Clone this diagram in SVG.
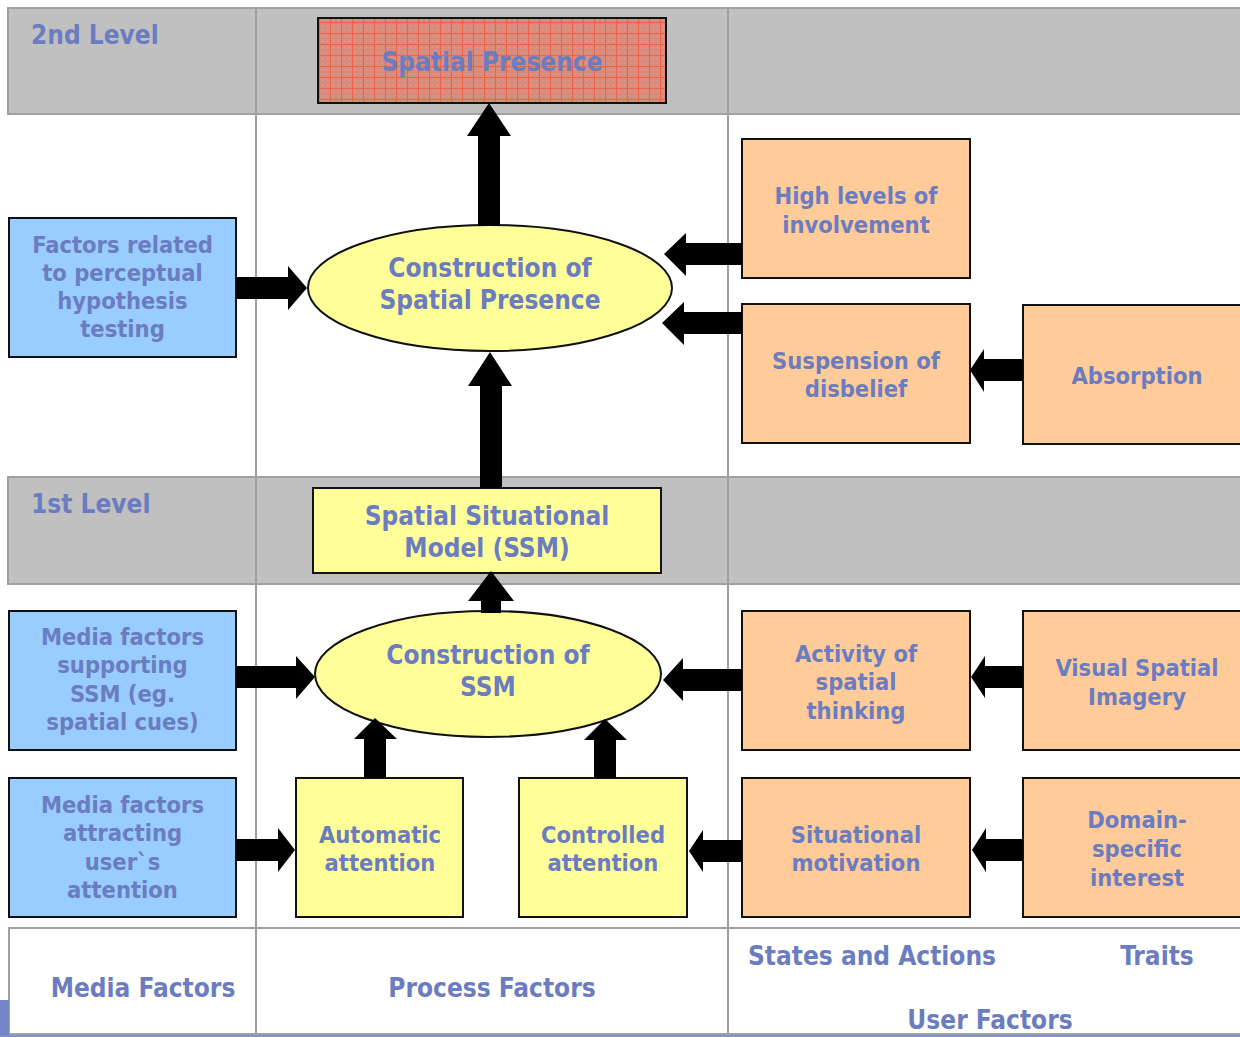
<svg xmlns="http://www.w3.org/2000/svg" width="1240" height="1037" viewBox="0 0 1240 1037">
<defs>
<pattern id="grid" width="11" height="11" patternUnits="userSpaceOnUse">
<rect width="11" height="11" fill="#d98c7e"/>
<path d="M0 0.5H11M0.5 0V11" stroke="#ec6448" stroke-width="1"/>
<path d="M3 3h1v1h-1zM8 8h1v1h-1zM8 3h1v1h-1zM3 8h1v1h-1z" fill="#e0a092"/>
</pattern>
<style>
.band{fill:#c0c0c0;stroke:#a0a0a0;stroke-width:2}
.grid{stroke:#a0a0a0;stroke-width:2;fill:none}
.blue{fill:#99ccff;stroke:#111;stroke-width:2}
.orange{fill:#ffcc99;stroke:#111;stroke-width:2}
.yellow{fill:#ffff99;stroke:#111;stroke-width:2}
.t{font-family:"DejaVu Sans Condensed","DejaVu Sans",Tahoma,sans-serif;font-weight:bold;fill:#6b7cc0;text-anchor:middle}
.s{font-size:23.5px}
.b{font-size:26px}
.l{text-anchor:start}
.arrow{fill:#000}
</style>
</defs>
<rect width="1240" height="1037" fill="#ffffff"/>
<g id="table">
<rect class="band" x="8" y="8" width="1240" height="106"/>
<rect class="band" x="8" y="477" width="1240" height="107"/>
<rect x="9" y="928" width="1240" height="106" fill="#ffffff" stroke="#a0a0a0" stroke-width="2"/>
<path class="grid" d="M256 8V1035M728 8V1035"/>
<rect x="0" y="1000" width="9" height="37" fill="#7283c6"/>
<rect x="0" y="1035" width="1240" height="2" fill="#8090c8"/>
<text class="t b l" x="31" y="44">2nd Level</text>
<text class="t b l" x="31" y="513">1st Level</text>
<text class="t b" x="143" y="997">Media Factors</text>
<text class="t b" x="492" y="997">Process Factors</text>
<text class="t b" x="872" y="965">States and Actions</text>
<text class="t b" x="1157" y="965">Traits</text>
<text class="t b" x="990" y="1029">User Factors</text>
</g>
<g id="spatial-presence">
<rect x="318" y="18" width="348" height="85" fill="url(#grid)" stroke="#111" stroke-width="2"/>
<text class="t b" x="492" y="71">Spatial Presence</text>
</g>
<g id="factors-perceptual">
<rect class="blue" x="9" y="218" width="227" height="139"/>
<text class="t s" x="122.5" y="253">Factors related</text>
<text class="t s" x="122.5" y="281">to perceptual</text>
<text class="t s" x="122.5" y="309">hypothesis</text>
<text class="t s" x="122.5" y="337">testing</text>
</g>
<g id="construction-sp">
<ellipse class="yellow" cx="490" cy="288" rx="182" ry="63"/>
<text class="t b" x="490" y="277">Construction of</text>
<text class="t b" x="490" y="309">Spatial Presence</text>
</g>
<g id="high-involvement">
<rect class="orange" x="742" y="139" width="228" height="139"/>
<text class="t s" x="856" y="204">High levels of</text>
<text class="t s" x="856" y="233">involvement</text>
</g>
<g id="suspension">
<rect class="orange" x="742" y="304" width="228" height="139"/>
<text class="t s" x="856" y="369">Suspension of</text>
<text class="t s" x="856" y="397">disbelief</text>
</g>
<g id="absorption">
<rect class="orange" x="1023" y="305" width="222" height="139"/>
<text class="t s" x="1137" y="384">Absorption</text>
</g>
<g id="ssm">
<rect class="yellow" x="313" y="488" width="348" height="85"/>
<text class="t b" x="487" y="525">Spatial Situational</text>
<text class="t b" x="487" y="557">Model (SSM)</text>
</g>
<g id="construction-ssm">
<ellipse class="yellow" cx="488" cy="674" rx="173" ry="63"/>
<text class="t b" x="488" y="664">Construction of</text>
<text class="t b" x="488" y="696">SSM</text>
</g>
<g id="media-supporting">
<rect class="blue" x="9" y="611" width="227" height="139"/>
<text class="t s" x="122.5" y="645">Media factors</text>
<text class="t s" x="122.5" y="673">supporting</text>
<text class="t s" x="122.5" y="702">SSM (eg.</text>
<text class="t s" x="122.5" y="730">spatial cues)</text>
</g>
<g id="activity">
<rect class="orange" x="742" y="611" width="228" height="139"/>
<text class="t s" x="856" y="662">Activity of</text>
<text class="t s" x="856" y="690">spatial</text>
<text class="t s" x="856" y="719">thinking</text>
</g>
<g id="visual-imagery">
<rect class="orange" x="1023" y="611" width="222" height="139"/>
<text class="t s" x="1137" y="676">Visual Spatial</text>
<text class="t s" x="1137" y="705">Imagery</text>
</g>
<g id="media-attracting">
<rect class="blue" x="9" y="778" width="227" height="139"/>
<text class="t s" x="122.5" y="813">Media factors</text>
<text class="t s" x="122.5" y="841">attracting</text>
<text class="t s" x="122.5" y="870">user`s</text>
<text class="t s" x="122.5" y="898">attention</text>
</g>
<g id="automatic">
<rect class="yellow" x="296" y="778" width="167" height="139"/>
<text class="t s" x="380" y="843">Automatic</text>
<text class="t s" x="380" y="871">attention</text>
</g>
<g id="controlled">
<rect class="yellow" x="519" y="778" width="168" height="139"/>
<text class="t s" x="603" y="843">Controlled</text>
<text class="t s" x="603" y="871">attention</text>
</g>
<g id="situational">
<rect class="orange" x="742" y="778" width="228" height="139"/>
<text class="t s" x="856" y="843">Situational</text>
<text class="t s" x="856" y="871">motivation</text>
</g>
<g id="domain">
<rect class="orange" x="1023" y="778" width="222" height="139"/>
<text class="t s" x="1137" y="828">Domain-</text>
<text class="t s" x="1137" y="857">specific</text>
<text class="t s" x="1137" y="886">interest</text>
</g>
<g id="connectors">
<polygon class="arrow" points="478,226 478,136 467,136 489,103 511,136 500,136 500,226"/>
<polygon class="arrow" points="480,488 480,386 468,386 490,352 512,386 502,386 502,488"/>
<polygon class="arrow" points="236,277 288,277 288,266 307,288 288,310 288,299 236,299"/>
<polygon class="arrow" points="742,243 686,243 686,233 664,254 686,276 686,265 742,265"/>
<polygon class="arrow" points="742,312 684,312 684,302 662,323 684,345 684,334 742,334"/>
<polygon class="arrow" points="1023,359 984,359 984,349 970,370 984,392 984,381 1023,381"/>
<polygon class="arrow" points="481,613 481,601 468,601 491,571 514,601 501,601 501,613"/>
<polygon class="arrow" points="236,666 296,666 296,656 315,677 296,699 296,688 236,688"/>
<polygon class="arrow" points="742,669 683,669 683,658 663,680 683,701 683,691 742,691"/>
<polygon class="arrow" points="1023,666 985,666 985,656 971,677 985,698 985,688 1023,688"/>
<polygon class="arrow" points="364,778 364,739 354,739 375,718 397,739 386,739 386,778"/>
<polygon class="arrow" points="594,778 594,740 584,740 605,719 627,740 616,740 616,778"/>
<polygon class="arrow" points="236,839 278,839 278,828 295,850 278,872 278,861 236,861"/>
<polygon class="arrow" points="742,840 703,840 703,830 689,851 703,872 703,862 742,862"/>
<polygon class="arrow" points="1023,839 986,839 986,828 972,850 986,872 986,861 1023,861"/>
</g>
</svg>
